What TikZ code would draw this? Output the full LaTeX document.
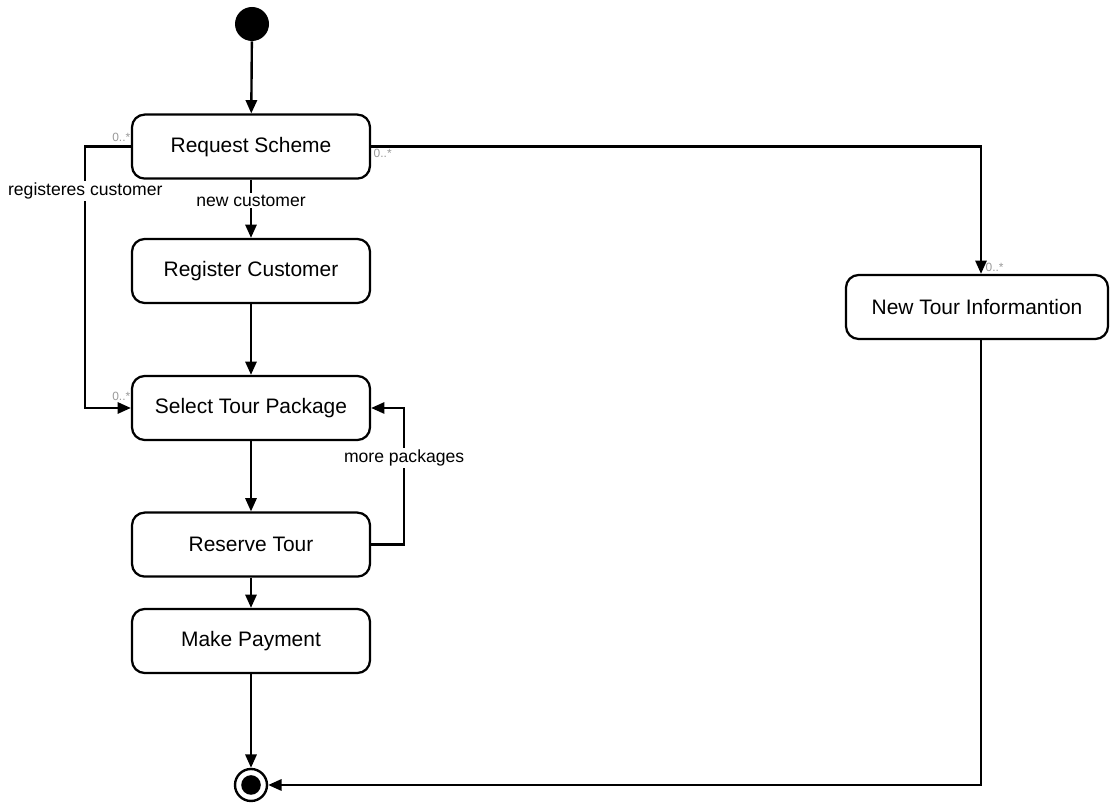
\documentclass[tikz,border=0pt]{standalone}
\usepackage{fontspec}
\setmainfont{Liberation Sans}
\usepackage{tikz}
\usetikzlibrary{arrows.meta,calc,positioning}

\begin{document}
\begin{tikzpicture}[
  every node/.style={font=\fontsize{14.9}{17}\selectfont},
  act/.style={draw, line width=1.6pt, rounded corners=9pt, minimum width=5.95cm,
              minimum height=1.6cm, align=center, fill=white},
  arr/.style={-{Triangle[length=9.5pt,width=8pt]}, line width=1.7pt},
  lbl/.style={font=\fontsize{12.5}{14}\selectfont, fill=white, inner sep=1pt},
  mult/.style={font=\fontsize{8.5}{10}\selectfont, text=gray!80, inner sep=1pt},
]
\useasboundingbox (0,0) rectangle (27.8,20.075);

%% -- Initial / final states ---------------------------------------------
\node[circle, fill=black, minimum size=0.85cm, inner sep=0pt] (start) at (6.3, 19.475) {};
\node[circle, draw, line width=1.7pt, minimum size=0.8cm, inner sep=0pt] (stop) at (6.275, 0.45) {};
\fill (stop.center) circle (0.245cm);

%% -- Activities -----------------------------------------------------------
\node[act] (RS)  at (6.275, 16.41) {Request Scheme};
\node[act] (RC)  at (6.275, 13.30) {Register Customer};
\node[act] (STP) at (6.275, 9.875) {Select Tour Package};
\node[act] (RT)  at (6.275, 6.46)  {Reserve Tour};
\node[act] (MP)  at (6.275, 4.05)  {Make Payment};
\node[act, minimum width=6.55cm] (NTI) at (24.425, 12.40) {New Tour Informantion};

%% -- Main flow ------------------------------------------------------------
\draw[arr] (start) -- (RS);
\draw[arr] (RS) -- node[lbl, pos=0.36]{new customer} (RC);
\draw[arr] (RC) -- (STP);
\draw[arr] (STP) -- (RT);
\draw[arr] (RT) -- (MP);
\draw[arr] (MP) -- (stop);

%% -- Registered customer skips registration -------------------------------
\draw[arr] (RS.west) node[mult, above left, xshift=0.05cm, yshift=0.05cm]{0..*}
  -- ++(-1.14,0) |- node[lbl, pos=0.085]{registeres customer} (STP.west)
  node[mult, above left, xshift=0.05cm, yshift=0.12cm]{0..*};

%% -- Loop back for more packages ------------------------------------------
\draw[arr] (RT.east) -- ++(0.825,0) |- node[lbl, pos=0.317]{more packages} (STP.east);

%% -- New tour information branch ------------------------------------------
\draw[arr] (RS.east) node[mult, below right]{0..*} -| ([xshift=0.1cm]NTI.north)
  node[mult, above right, xshift=0.05cm]{0..*};
\draw[arr] ([xshift=0.1cm]NTI.south) |- (stop.east);
\end{tikzpicture}
\end{document}
